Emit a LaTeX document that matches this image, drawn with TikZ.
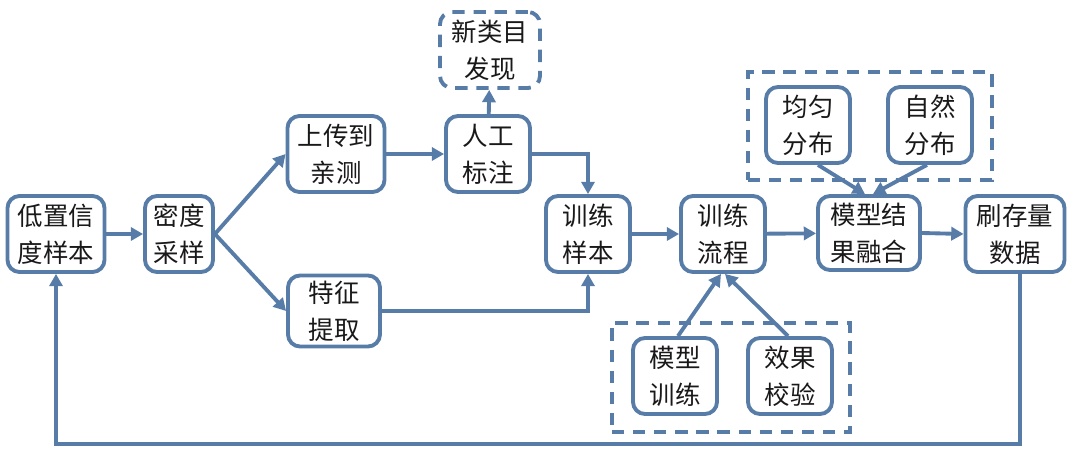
\documentclass[tikz,border=0pt]{standalone}
\usepackage{fontspec}
\setmainfont{Noto Sans CJK SC}
\usetikzlibrary{arrows.meta,calc}
\definecolor{bl}{RGB}{88,124,168}
\begin{document}
\begin{tikzpicture}[x=0.02cm,y=-0.02cm,
  box/.style={draw=bl,line width=2.2pt,rounded corners=0.24cm,align=center,inner sep=0pt,
    font=\fontsize{14.5}{21}\selectfont,text=black!90},
  dbox/.style={box,dash pattern=on 7pt off 5pt},
  grp/.style={draw=bl,line width=2.2pt,dash pattern=on 7pt off 5pt},
  arr/.style={draw=bl,line width=2.2pt,-{Triangle[length=7pt,width=7.5pt]}}]
\useasboundingbox (0,0) rectangle (1080,462);
\node[box,minimum width=1.94cm,minimum height=1.52cm] (low) at (56,234) {低置信\\度样本};
\node[box,minimum width=1.36cm,minimum height=1.52cm] (mi) at (179,234) {密度\\采样};
\node[box,minimum width=1.94cm,minimum height=1.52cm] (up) at (336,154) {上传到\\亲测};
\node[box,minimum width=1.84cm,minimum height=1.42cm] (feat) at (334,311) {特征\\提取};
\node[box,minimum width=1.68cm,minimum height=1.52cm] (ren) at (488,154) {人工\\标注};
\node[dbox,minimum width=2.0cm,minimum height=1.52cm] (new) at (490,50) {新类目\\发现};
\node[box,minimum width=1.68cm,minimum height=1.52cm] (train) at (588,234) {训练\\样本};
\node[box,minimum width=1.68cm,minimum height=1.52cm] (flow) at (723,234) {训练\\流程};
\node[box,minimum width=2.04cm,minimum height=1.48cm] (fuse) at (869,233) {模型结\\果融合};
\node[box,minimum width=1.98cm,minimum height=1.52cm] (shua) at (1015,234) {刷存量\\数据};
\node[box,minimum width=1.68cm,minimum height=1.52cm] (jun) at (808,125) {均匀\\分布};
\node[box,minimum width=1.68cm,minimum height=1.52cm] (zi) at (930,125) {自然\\分布};
\node[box,minimum width=1.68cm,minimum height=1.52cm] (mt) at (675,376) {模型\\训练};
\node[box,minimum width=1.68cm,minimum height=1.52cm] (xg) at (790,376) {效果\\校验};
\node[grp,minimum width=4.88cm,minimum height=2.16cm,inner sep=0pt] (gtop) at (870,126) {};
\node[grp,minimum width=4.76cm,minimum height=2.18cm,inner sep=0pt] (gbot) at (731,377.5) {};
\coordinate (lp) at (56,444);
\draw[arr] (low) -- (mi);
\draw[arr] (mi.east) -- (up.west);
\draw[arr] (mi.east) -- (feat.west);
\draw[arr] (up) -- (ren);
\draw[arr] (ren) -- (new);
\draw[arr] (ren.east) -| (train.north);
\draw[arr] (feat.east) -| (train.south);
\draw[arr] (train) -- (flow);
\draw[arr] (flow) -- (fuse);
\draw[arr] (fuse.east) -- (shua.west);
\draw[arr] ([xshift=0.2cm]jun.south) -- ([xshift=-0.08cm]fuse.north);
\draw[arr] ([xshift=-0.06cm]zi.south) -- ([xshift=0.08cm]fuse.north);
\draw[arr] ([xshift=0.06cm]mt.north) -- ([xshift=-0.04cm]flow.south);
\draw[arr] ([xshift=-0.04cm]xg.north) -- ([xshift=0.04cm]flow.south);
\draw[arr] ([xshift=0.1cm]shua.south) |- (lp) -- (low.south);
\end{tikzpicture}
\end{document}
